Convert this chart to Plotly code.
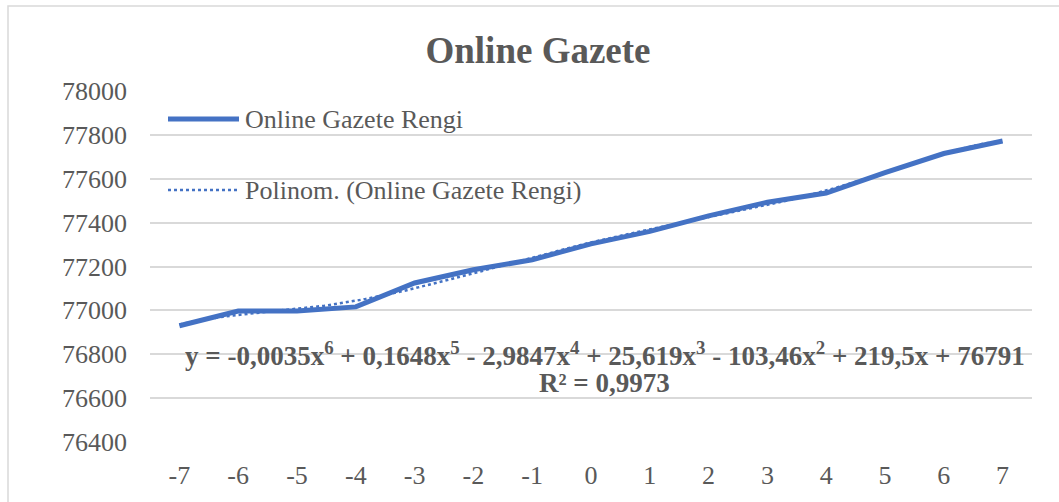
import numpy as np
import plotly.graph_objects as go

# x categories and read-off values
x_vals = [-7, -6, -5, -4, -3, -2, -1, 0, 1, 2, 3, 4, 5, 6, 7]
renk = [76930, 76997, 76997, 77016, 77125, 77185, 77231, 77303,
        77360, 77431, 77493, 77535, 77628, 77715, 77772]
y_ticks = [76400, 76600, 76800, 77000, 77200, 77400, 77600, 77800, 78000]

BLUE = "#4472C4"
GREY = "#595959"
FONT = "Liberation Serif"

# plot area in pixels -> paper coords helper
L, R, T, B = 150, 1032, 91, 442
def px(x):
    return (x - L) / (R - L)
def py(y):
    return (B - y) / (B - T)

# 6th degree polynomial trend line, like Excel's "Polinom." trendline
idx = np.arange(1, len(renk) + 1)
coef = np.polyfit(idx, renk, 6)
fine = np.linspace(1, len(renk), 200)
trend_x = fine - 8
trend_y = np.polyval(coef, fine)

fig = go.Figure()
fig.add_trace(go.Scatter(x=trend_x, y=trend_y, mode="lines",
                         line=dict(color=BLUE, width=2.5, dash="dot"),
                         name="Polinom. (Online Gazete Rengi)"))
fig.add_trace(go.Scatter(x=x_vals, y=renk, mode="lines",
                         line=dict(color=BLUE, width=5),
                         name="Online Gazete Rengi"))

# legend drawn by hand (Excel-style long line samples)
fig.add_shape(type="line", xref="paper", yref="paper",
              x0=px(168), x1=px(239), y0=py(119), y1=py(119),
              line=dict(color=BLUE, width=5))
fig.add_shape(type="line", xref="paper", yref="paper",
              x0=px(168), x1=px(239), y0=py(190), y1=py(190),
              line=dict(color=BLUE, width=2.5, dash="dot"))
fig.add_annotation(xref="paper", yref="paper", x=px(243), y=py(120),
                   text="Online Gazete Rengi", showarrow=False,
                   xanchor="left", yanchor="middle",
                   font=dict(family=FONT, size=26, color=GREY))
fig.add_annotation(xref="paper", yref="paper", x=px(243), y=py(190),
                   text="Polinom. (Online Gazete Rengi)", showarrow=False,
                   xanchor="left", yanchor="middle",
                   font=dict(family=FONT, size=26, color=GREY))

# trend equation
eq1 = ("y = -0,0035x<sup>6</sup> + 0,1648x<sup>5</sup> - 2,9847x<sup>4</sup> + 25,619x<sup>3</sup>"
       " - 103,46x<sup>2</sup> + 219,5x + 76791")
eq2 = "R² = 0,9973"
fig.add_annotation(xref="paper", yref="paper", x=px(605), y=py(354),
                   text="<b>" + eq1 + "</b>", showarrow=False,
                   xanchor="center", yanchor="middle",
                   font=dict(family=FONT, size=27, color=GREY))
fig.add_annotation(xref="paper", yref="paper", x=px(604), y=py(383),
                   text="<b>" + eq2 + "</b>", showarrow=False,
                   xanchor="center", yanchor="middle",
                   font=dict(family=FONT, size=27, color=GREY))

# chart area border
fig.add_shape(type="rect", xref="paper", yref="paper",
              x0=px(8), x1=px(1100), y0=py(560), y1=py(6),
              line=dict(color="#D9D9D9", width=1.5))

fig.update_layout(
    width=1059, height=502,
    margin=dict(l=L, r=1059 - R, t=T, b=502 - B),
    paper_bgcolor="white", plot_bgcolor="white",
    showlegend=False,
    title=dict(text="<b>Online Gazete</b>", x=538 / 1059, xanchor="center",
               y=1 - 50 / 502, yanchor="middle",
               font=dict(family=FONT, size=37, color=GREY)),
)
fig.update_xaxes(range=[-7.5, 7.5], tickvals=x_vals, ticktext=[str(v) for v in x_vals],
                 showgrid=False, zeroline=False, showline=False, ticks="",
                 ticklabelstandoff=15,
                 tickfont=dict(family=FONT, size=26, color=GREY))
fig.update_yaxes(range=[76400, 78000], tickvals=y_ticks, ticktext=[str(v) for v in y_ticks],
                 showgrid=True, gridcolor="#D9D9D9", gridwidth=1.5, zeroline=False,
                 showline=False, ticks="", ticklabelstandoff=22,
                 tickfont=dict(family=FONT, size=26, color=GREY))

fig.write_html("out.html", config={"displayModeBar": False},
               post_script="document.body.style.margin='0';")
